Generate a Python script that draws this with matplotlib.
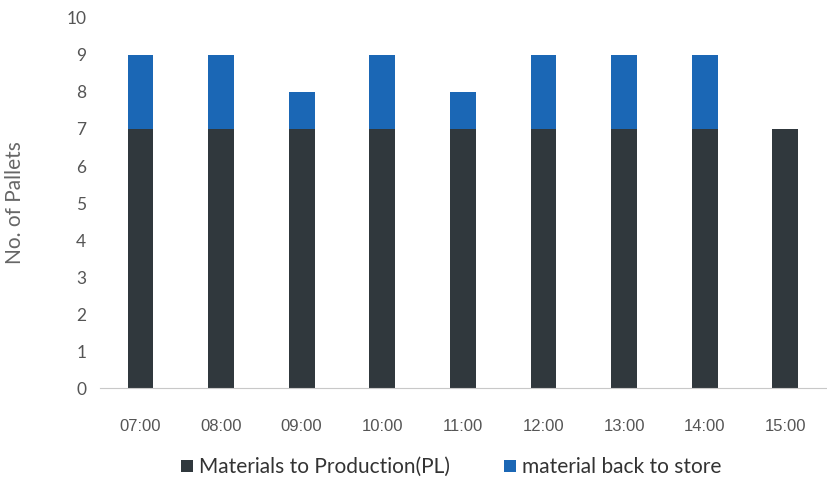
import matplotlib
matplotlib.use("Agg")
import matplotlib.pyplot as plt
import numpy as np

hours = ["07:00", "08:00", "09:00", "10:00", "11:00", "12:00", "13:00", "14:00", "15:00"]
to_production = [7, 7, 7, 7, 7, 7, 7, 7, 7]
back_to_store = [2, 2, 1, 2, 1, 2, 2, 2, 0]

fig = plt.figure(figsize=(8.28, 4.84), dpi=100)
ax = fig.add_axes([0.121, 0.198, 0.876, 0.765])

x = np.arange(len(hours))
w = 0.32
ax.bar(x, to_production, w, color="#30383d", label="Materials to Production(PL)")
ax.bar(x, back_to_store, w, bottom=to_production, color="#1b67b5",
       label="material back to store")

ax.set_xlim(-0.5, len(hours) - 0.5)
ax.set_ylim(0, 10)
ax.set_yticks(range(0, 11))
ax.set_xticks(x)
ax.set_xticklabels(hours, fontfamily="Liberation Sans")
ax.tick_params(axis="x", length=0, labelsize=12, colors="#555555", pad=22)
ax.tick_params(axis="y", length=0, labelsize=12.5, colors="#555555", pad=10)
for lab in ax.get_yticklabels():
    lab.set_fontfamily("Lato")

for side in ["top", "right", "left"]:
    ax.spines[side].set_visible(False)
ax.spines["bottom"].set_color("#c8c8c8")

ax.set_ylabel("No. of Pallets", fontsize=15, color="#666666", fontfamily="Lato", labelpad=30)

fig.legend(loc="lower center", bbox_to_anchor=(0.545, -0.025), ncol=2, frameon=False,
           prop={"family": "Lato", "size": 15}, labelcolor="#333333",
           handlelength=0.55, handleheight=0.55, handletextpad=0.3, columnspacing=2.6)

fig.savefig("out.png", dpi=100)
